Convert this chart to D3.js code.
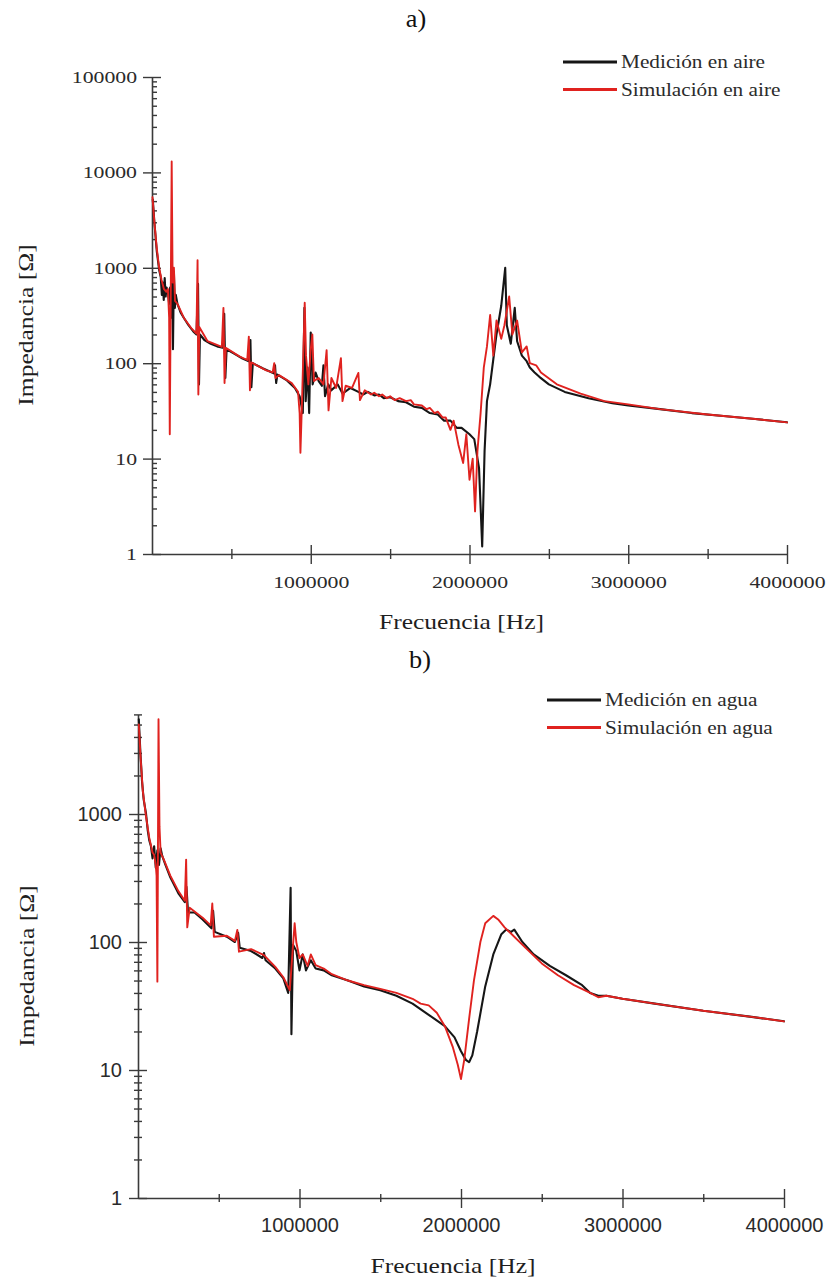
<!DOCTYPE html>
<html>
<head>
<meta charset="utf-8">
<script src="https://cdn.jsdelivr.net/npm/d3@7"></script>
<style>
  body { margin: 0; background: #ffffff; }
  svg { display: block; }
</style>
</head>
<body>
<svg id="chart" width="831" height="1279"></svg>
<script>
// ---------- a) impedance in air ----------
const medAireHz = [5000,15000,30000,45000,55000,62000,68000,74000,80000,86000,92000,100000,108000,114000,120000,126000,132000,138000,144000,150000,160000,180000,200000,230000,260000,280000,290000,296000,302000,330000,370000,410000,445000,455000,462000,470000,520000,570000,610000,620000,626000,635000,700000,770000,775000,782000,790000,850000,900000,930000,950000,960000,968000,980000,990000,1000000,1012000,1030000,1050000,1070000,1080000,1090000,1110000,1130000,1170000,1200000,1250000,1300000,1330000,1360000,1400000,1430000,1460000,1500000,1550000,1600000,1650000,1700000,1750000,1800000,1840000,1880000,1920000,1950000,2000000,2030000,2060000,2080000,2095000,2110000,2130000,2150000,2170000,2200000,2225000,2235000,2260000,2285000,2300000,2330000,2360000,2380000,2410000,2440000,2500000,2600000,2750000,2900000,3000000,3200000,3400000,3600000,3800000,4000000];
const medAireOhm = [5200,3000,1500,950,800,520,700,460,780,500,620,560,420,620,300,980,140,900,380,520,420,340,300,250,215,200,680,60,200,175,160,150,145,330,70,140,125,112,105,175,56,100,88,78,95,62,76,66,55,45,30,380,40,90,30,210,60,80,65,58,95,45,60,52,60,48,55,50,47,50,46,47,43,44,40,39,35,34,30,29,25,25,21,21,18,16,8,1.2,12,40,60,110,200,400,1000,250,160,380,170,120,105,90,80,72,60,50,43,38,36,33,30,28,26,24];

const simAireHz = [3000,15000,30000,45000,60000,75000,90000,100000,108000,112000,118000,124000,130000,138000,145000,160000,200000,250000,280000,287000,292000,298000,350000,440000,450000,457000,465000,550000,600000,610000,617000,625000,720000,760000,770000,778000,800000,880000,920000,930000,935000,945000,962000,970000,985000,1000000,1010000,1020000,1050000,1080000,1100000,1112000,1130000,1160000,1190000,1200000,1220000,1260000,1300000,1310000,1340000,1380000,1400000,1430000,1450000,1480000,1500000,1530000,1560000,1600000,1630000,1650000,1700000,1730000,1750000,1780000,1800000,1830000,1850000,1880000,1900000,1930000,1960000,1980000,2000000,2020000,2035000,2050000,2070000,2090000,2110000,2130000,2150000,2170000,2200000,2220000,2250000,2270000,2300000,2330000,2360000,2380000,2420000,2450000,2550000,2700000,2850000,3000000,3200000,3500000,3800000,4000000];
const simAireOhm = [5500,3000,1600,1000,750,600,560,600,300,18,500,13000,700,1000,450,420,300,230,205,1200,47,240,170,148,380,62,145,118,108,190,52,102,84,80,100,70,75,62,50,30,11.5,40,430,120,60,140,200,65,70,60,137,32,70,55,113,40,58,55,79,41,52,47,49,45,47,43,45,41,43,40,41,37,36,33,34,30,31,27,27,20,25,14,9,18,6,10,2.8,12,30,90,150,320,120,280,180,250,500,200,280,130,150,100,95,80,60,48,40,37,33,29,26,24];

// ---------- b) impedance in water ----------
const medAguaHz = [5000,15000,25000,35000,50000,60000,70000,80000,90000,100000,110000,120000,130000,140000,150000,170000,200000,250000,290000,300000,310000,350000,400000,455000,465000,475000,550000,600000,620000,630000,700000,770000,780000,790000,850000,900000,930000,945000,950000,960000,980000,1000000,1020000,1040000,1070000,1100000,1150000,1200000,1300000,1400000,1500000,1600000,1700000,1800000,1900000,1960000,2000000,2030000,2050000,2070000,2100000,2150000,2200000,2250000,2280000,2310000,2330000,2380000,2450000,2550000,2650000,2750000,2800000,2850000,2900000,3000000,3200000,3500000,3800000,4000000];
const medAguaOhm = [5500,3000,1800,1300,1000,750,620,560,450,560,380,520,400,540,470,400,320,240,205,270,170,170,150,128,175,120,110,100,118,90,85,75,82,72,62,52,40,265,19,95,85,60,80,60,72,62,60,55,50,45,42,38,33,27,22,18,14,12,11.5,13,20,45,80,115,125,120,125,100,80,65,55,46,40,38,38,36,33,29,26,24];

const simAguaHz = [5000,15000,30000,50000,70000,90000,100000,110000,115000,120000,127000,133000,140000,160000,200000,250000,290000,298000,305000,320000,400000,450000,460000,470000,550000,600000,615000,625000,700000,780000,850000,900000,940000,960000,970000,980000,1000000,1020000,1050000,1070000,1100000,1150000,1200000,1300000,1400000,1500000,1600000,1700000,1750000,1800000,1850000,1900000,1950000,1980000,2000000,2020000,2050000,2080000,2120000,2150000,2200000,2230000,2270000,2330000,2400000,2500000,2600000,2700000,2800000,2850000,2900000,3000000,3200000,3500000,3800000,4000000];
const simAguaOhm = [5000,2900,1500,950,650,500,480,400,330,49,5500,800,500,440,330,250,210,440,130,185,155,135,200,110,112,102,124,84,88,79,64,53,42,95,140,100,75,80,65,80,66,62,56,50,46,43,40,36,33,32,28,22,15,11,8.5,12,25,50,100,140,160,150,130,110,90,68,55,46,40,37,38,36,33,29,26,24];

// ---------- ticks, labels, legend ----------
const xTickValues = [1000000, 2000000, 3000000, 4000000];
const xTickLabels = ["1000000", "2000000", "3000000", "4000000"];
const xMinorValues = [500000, 1500000, 2500000, 3500000];
const yTickValuesA = [1, 10, 100, 1000, 10000, 100000];
const yTickLabelsA = ["1", "10", "100", "1000", "10000", "100000"];
const yTickValuesB = [1, 10, 100, 1000];
const yTickLabelsB = ["1", "10", "100", "1000"];
const legendAire = ["Medición en aire", "Simulación en aire"];
const legendAgua = ["Medición en agua", "Simulación en agua"];
const xTitle = "Frecuencia [Hz]";
const yTitle = "Impedancia [Ω]";

const COLOR_MED = "#161616";
const COLOR_SIM = "#e0221f";
const AXIS = "#3a3a3a";
const SERIF = "'Liberation Serif','Times New Roman',serif";
const SANS = "'Liberation Sans',Arial,sans-serif";

const svg = d3.select("#chart");

function zip(xs, ys) { return xs.map((v, i) => [v, ys[i]]); }

// horizontally widened text, anchored at (x, y)
function wideText(parent, x, y, str, opt) {
  const g = parent.append("g").attr("transform", `translate(${x},${y})` + (opt.rotate ? ` rotate(${opt.rotate})` : ""));
  g.append("text")
    .attr("transform", `scale(${opt.sx || 1},1)`)
    .attr("text-anchor", opt.anchor || "start")
    .attr("font-family", opt.family || SERIF)
    .attr("font-size", opt.size)
    .attr("fill", opt.fill || "#1e1e1e")
    .text(str);
  return g;
}

function minorLogValues(maxVal) {
  const out = [];
  for (let d = 1; d < maxVal; d *= 10) {
    for (let k = 2; k <= 9; k++) { if (d * k <= maxVal) out.push(d * k); }
  }
  return out;
}

function drawPanel(cfg) {
  const x = d3.scaleLinear().domain([0, 4000000]).range([cfg.left, cfg.right]);
  const y = d3.scaleLog().domain([1, cfg.yMax]).range([cfg.bottom, cfg.top]);
  const g = svg.append("g");

  const styleAxis = sel => {
    sel.selectAll("path.domain").attr("stroke", AXIS).attr("stroke-width", 1.6);
    sel.selectAll(".tick line").attr("stroke", AXIS).attr("stroke-width", 1.4);
  };

  // y axis: minor ticks
  const yMinor = minorLogValues(cfg.yMax);
  g.append("g").attr("transform", `translate(${cfg.left},0)`)
    .call(d3.axisRight(y).tickValues(yMinor).tickSize(cfg.yMinorRight).tickSizeOuter(0).tickFormat(""))
    .call(styleAxis).call(s => s.select("path.domain").remove());
  if (cfg.yMinorLeft > 0) {
    g.append("g").attr("transform", `translate(${cfg.left},0)`)
      .call(d3.axisLeft(y).tickValues(yMinor).tickSize(cfg.yMinorLeft).tickSizeOuter(0).tickFormat(""))
      .call(styleAxis).call(s => s.select("path.domain").remove());
  }
  // y axis: major ticks on the right side of the line
  g.append("g").attr("transform", `translate(${cfg.left},0)`)
    .call(d3.axisRight(y).tickValues(cfg.yTicks).tickSize(9).tickSizeOuter(0).tickFormat(""))
    .call(styleAxis).call(s => s.select("path.domain").remove());
  // y axis: line, left major ticks, labels
  const yAx = g.append("g").attr("transform", `translate(${cfg.left},0)`)
    .call(d3.axisLeft(y).tickValues(cfg.yTicks).tickSize(9).tickSizeOuter(0)
      .tickPadding(cfg.yPad).tickFormat((d, i) => cfg.yLabels[i]))
    .call(styleAxis);
  yAx.selectAll("text")
    .attr("font-family", cfg.tickFamily).attr("font-size", cfg.tickSize).attr("fill", "#2a2a2a")
    .attr("x", -(9 + cfg.yPad) / cfg.tickSx).attr("transform", `scale(${cfg.tickSx},1)`);

  // x axis: minor ticks both sides
  const xAxG = g.append("g").attr("transform", `translate(0,${cfg.bottom})`);
  xAxG.append("g").call(d3.axisBottom(x).tickValues(xMinorValues).tickSize(cfg.xMinor).tickSizeOuter(0).tickFormat(""))
    .call(styleAxis).call(s => s.select("path.domain").remove());
  xAxG.append("g").call(d3.axisTop(x).tickValues(xMinorValues).tickSize(cfg.xMinor).tickSizeOuter(0).tickFormat(""))
    .call(styleAxis).call(s => s.select("path.domain").remove());
  xAxG.append("g").call(d3.axisTop(x).tickValues(xTickValues).tickSize(9).tickSizeOuter(0).tickFormat(""))
    .call(styleAxis).call(s => s.select("path.domain").remove());
  const xAx = xAxG.append("g")
    .call(d3.axisBottom(x).tickValues(xTickValues).tickSize(10).tickSizeOuter(0)
      .tickPadding(cfg.xPad).tickFormat((d, i) => xTickLabels[i]))
    .call(styleAxis);
  xAx.selectAll("text")
    .attr("font-family", cfg.tickFamily).attr("font-size", cfg.tickSize).attr("fill", "#2a2a2a")
    .attr("transform", `scale(${cfg.tickSx},1)`);

  // data lines
  const line = d3.line().x(d => x(d[0])).y(d => y(d[1]));
  const series = [
    { pts: zip(cfg.medHz, cfg.medOhm), color: COLOR_MED, w: 2.1 },
    { pts: zip(cfg.simHz, cfg.simOhm), color: COLOR_SIM, w: 1.9 }
  ];
  g.selectAll("path.series").data(series).join("path")
    .attr("class", "series")
    .attr("d", d => line(d.pts))
    .attr("fill", "none")
    .attr("stroke", d => d.color)
    .attr("stroke-width", d => d.w)
    .attr("stroke-linejoin", "round")
    .attr("stroke-linecap", "round");

  // titles
  wideText(g, (cfg.left + cfg.right) / 2 - 8, cfg.xTitleY, xTitle, { size: 22, sx: 1.16, anchor: "middle" });
  wideText(g, cfg.yTitleX, cfg.yTitleY, yTitle, { size: 22, sx: 1.16, anchor: "middle", rotate: -90 });
  wideText(g, cfg.tagX, cfg.tagY, cfg.tag, { size: 25, sx: 1.05, anchor: "middle", fill: "#111" });

  // legend
  const colors = [COLOR_MED, COLOR_SIM];
  cfg.legend.forEach((label, i) => {
    const ly = cfg.legY + i * 27.5;
    g.append("line")
      .attr("x1", cfg.legX).attr("x2", cfg.legX + 54)
      .attr("y1", ly).attr("y2", ly)
      .attr("stroke", colors[i]).attr("stroke-width", 3);
    wideText(g, cfg.legX + 58, ly + 6, label, { size: 19, sx: 1.12, fill: "#2b2b2b" });
  });
}

drawPanel({
  tag: "a)", tagX: 416, tagY: 27,
  left: 152, right: 787, top: 77, bottom: 554, yMax: 100000,
  yTicks: yTickValuesA, yLabels: yTickLabelsA,
  yMinorRight: 5, yMinorLeft: 0, xMinor: 5,
  tickFamily: SERIF, tickSize: 17, tickSx: 1.28, yPad: 6, xPad: 12,
  medHz: medAireHz, medOhm: medAireOhm, simHz: simAireHz, simOhm: simAireOhm,
  xTitleY: 629, yTitleX: 33, yTitleY: 325,
  legend: legendAire, legX: 563, legY: 62
});

drawPanel({
  tag: "b)", tagX: 420, tagY: 668,
  left: 138, right: 784, top: 714.4, bottom: 1198, yMax: 6000,
  yTicks: yTickValuesB, yLabels: yTickLabelsB,
  yMinorRight: 4, yMinorLeft: 4, xMinor: 4,
  tickFamily: SANS, tickSize: 20, tickSx: 1.0, yPad: 7, xPad: 10,
  medHz: medAguaHz, medOhm: medAguaOhm, simHz: simAguaHz, simOhm: simAguaOhm,
  xTitleY: 1273, yTitleX: 34, yTitleY: 966,
  legend: legendAgua, legX: 547, legY: 700
});
</script>
</body>
</html>
